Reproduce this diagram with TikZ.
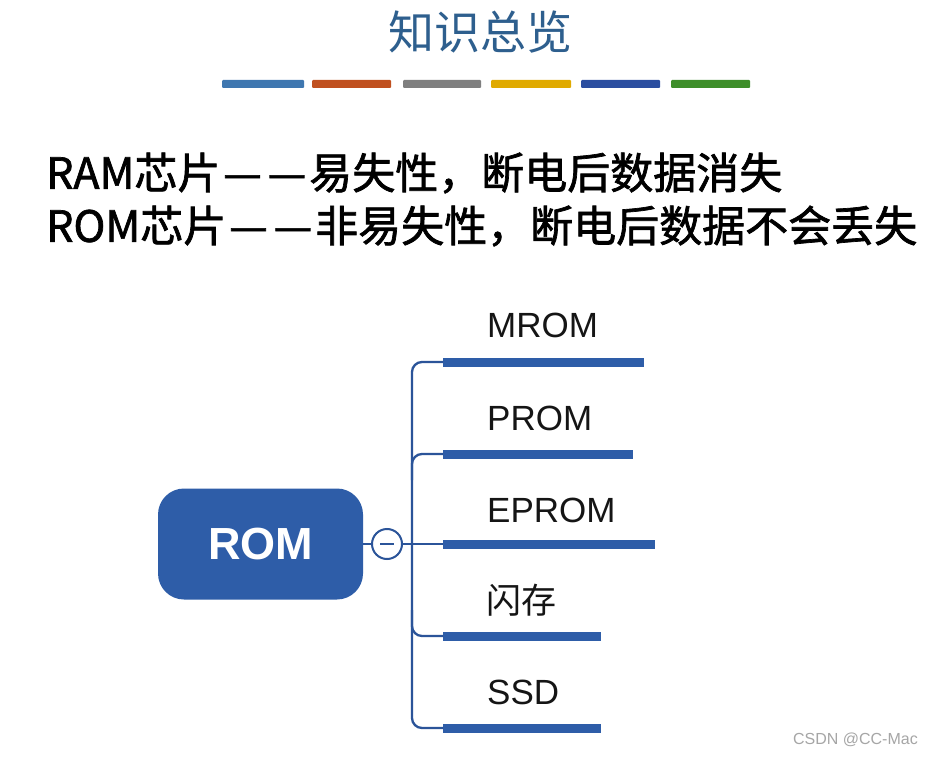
\documentclass[tikz,border=0pt]{standalone}
\usepackage{fontspec}
\setmainfont{Liberation Sans}
\newfontfamily\cjk{Noto Sans CJK SC}
\newfontfamily\cjkm[FakeBold=1.6]{Noto Sans CJK SC}
\newfontfamily\lab{Liberation Sans}
\definecolor{titleblue}{HTML}{2E5F8E}
\definecolor{romblue}{HTML}{2E5DA8}
\definecolor{lineblue}{HTML}{2B5499}
\definecolor{barA}{HTML}{3F77B0}
\definecolor{barB}{HTML}{C0501F}
\definecolor{barC}{HTML}{7F7F7F}
\definecolor{barD}{HTML}{E0AA00}
\definecolor{barE}{HTML}{2B4EA0}
\definecolor{barF}{HTML}{3E8E2A}
\definecolor{txt}{HTML}{151515}
\tikzset{
  colbar/.style={rounded corners=1pt},
  leafbar/.style={fill=romblue, draw=none},
  leaftext/.style={anchor=west, inner sep=0pt, text=txt, font=\lab\fontsize{35}{40}\selectfont},
  conn/.style={draw=lineblue, line width=2.3pt, rounded corners=10pt},
  bigline/.style={anchor=west, inner sep=0pt, text=black, font=\cjkm\fontsize{43}{48}\selectfont}
}
\begin{document}
\begin{tikzpicture}[x=1pt,y=-1pt]
\useasboundingbox (0,0) rectangle (935,757);
\fill[white] (0,0) rectangle (935,757);
% title
\node[inner sep=0pt, text=titleblue, font=\cjk\fontsize{46}{50}\selectfont] (title) at (480,32) {知识总览};
% colour bars
\fill[barA, colbar] (222,80) rectangle (304,88);
\fill[barB, colbar] (312,80) rectangle (391,88);
\fill[barC, colbar] (403,80) rectangle (481,88);
\fill[barD, colbar] (491,80) rectangle (571,88);
\fill[barE, colbar] (581,80) rectangle (660,88);
\fill[barF, colbar] (671,80) rectangle (750,88);
% text lines
\node[bigline] (l1) at (46,173) {RAM芯片\kern3pt—\kern6pt—\kern3pt易失性，断电后数据消失};
\node[bigline] (l2) at (46,226) {ROM芯片\kern3pt—\kern6pt—\kern3pt非易失性，断电后数据不会丢失};
% root
\node[fill=romblue, rounded corners=26pt, minimum width=205pt, minimum height=111pt, inner sep=0pt,
      text=white, font=\lab\bfseries\fontsize{45}{50}\selectfont] (rom) at (260.5,544) {ROM};
\node[circle, draw=lineblue, line width=2pt, fill=white, minimum size=30pt, inner sep=0pt] (minus) at (387,544) {};
\draw[lineblue, line width=2pt] (380,544) -- (394,544);
% leaf bars
\coordinate (b1) at (443,362);
\coordinate (b2) at (443,454);
\coordinate (b3) at (443,544);
\coordinate (b4) at (443,636);
\coordinate (b5) at (443,728);
\fill[leafbar] (443,357.5) rectangle (644,366.5);
\fill[leafbar] (443,449.5) rectangle (633,458.5);
\fill[leafbar] (443,540) rectangle (655,549);
\fill[leafbar] (443,631.5) rectangle (601,640.5);
\fill[leafbar] (443,723.5) rectangle (601,732.5);
% connectors
\draw[conn] (rom.east) -- (minus.west);
\draw[conn] (minus.east) -- (b3);
\draw[conn] (b1) -- (412,362) -- (412,728) -- (b5);
\draw[conn] (b2) -- (412,454) -- (412,480);
\draw[conn] (b4) -- (412,636) -- (412,610);
% labels
\node[leaftext] (t1) at (487,325) {MROM};
\node[leaftext] (t2) at (487,418) {PROM};
\node[leaftext] (t3) at (487,510) {EPROM};
\node[leaftext, font=\cjk\fontsize{35}{40}\selectfont] (t4) at (486,600) {闪存};
\node[leaftext] (t5) at (487,692) {SSD};
% watermark
\node[anchor=east, inner sep=0pt, text=gray!70, font=\lab\fontsize{16}{18}\selectfont] (wm) at (918,740) {CSDN @CC-Mac};
\end{tikzpicture}
\end{document}
